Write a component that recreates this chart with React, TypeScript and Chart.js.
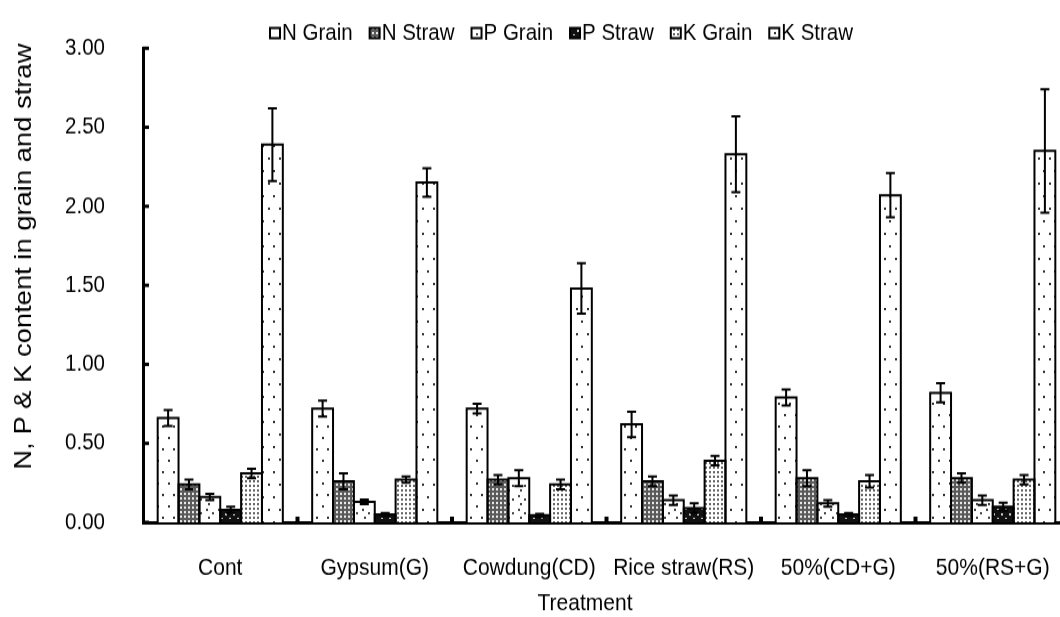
import React, { useEffect, useRef } from 'react';
import { Chart, registerables } from 'chart.js';

Chart.register(...registerables);

const categories = ['Cont', 'Gypsum(G)', 'Cowdung(CD)', 'Rice straw(RS)', '50%(CD+G)', '50%(RS+G)'];
const seriesNames = ['N Grain', 'N Straw', 'P Grain', 'P Straw', 'K Grain', 'K Straw'];

const nGrain = [0.66, 0.72, 0.72, 0.62, 0.79, 0.82];
const nGrainErr = [0.05, 0.05, 0.03, 0.08, 0.05, 0.06];
const nStraw = [0.24, 0.26, 0.27, 0.26, 0.28, 0.28];
const nStrawErr = [0.03, 0.05, 0.03, 0.03, 0.05, 0.03];
const pGrain = [0.16, 0.13, 0.28, 0.14, 0.12, 0.14];
const pGrainErr = [0.02, 0.015, 0.05, 0.03, 0.02, 0.03];
const pStraw = [0.08, 0.05, 0.045, 0.09, 0.05, 0.1];
const pStrawErr = [0.02, 0.01, 0.01, 0.03, 0.01, 0.025];
const kGrain = [0.31, 0.27, 0.24, 0.39, 0.26, 0.27];
const kGrainErr = [0.03, 0.02, 0.03, 0.03, 0.04, 0.03];
const kStraw = [2.39, 2.15, 1.48, 2.33, 2.07, 2.35];
const kStrawErr = [0.23, 0.09, 0.16, 0.24, 0.14, 0.39];

const seriesValues = [nGrain, nStraw, pGrain, pStraw, kGrain, kStraw];
const seriesErrors = [nGrainErr, nStrawErr, pGrainErr, pStrawErr, kGrainErr, kStrawErr];

const yMin = 0;
const yMax = 3;
const yStep = 0.5;
const yTitle = 'N, P & K content in grain and straw';
const xTitle = 'Treatment';

const FONT = "'Liberation Sans', Arial, sans-serif";
const CANVAS_W = 1090;
const CANVAS_H = 541;

function makePattern(ctx: CanvasRenderingContext2D, w: number, h: number, draw: (g: CanvasRenderingContext2D) => void) {
  const c = document.createElement('canvas');
  c.width = w;
  c.height = h;
  const g = c.getContext('2d')!;
  draw(g);
  return ctx.createPattern(c, 'repeat');
}

export default function App() {
  const ref = useRef<HTMLCanvasElement>(null);

  useEffect(() => {
    document.body.style.margin = '0';
    const canvas = ref.current!;
    const ctx = canvas.getContext('2d')!;

    const patterns = [
      // N Grain: white with sparse dots
      makePattern(ctx, 11, 20, (g) => {
        g.fillStyle = '#fff'; g.fillRect(0, 0, 11, 20);
        g.fillStyle = '#333'; g.fillRect(3, 3, 2, 2); g.fillRect(8, 13, 2, 2);
      }),
      // N Straw: gray dense texture
      makePattern(ctx, 4, 4, (g) => {
        g.fillStyle = '#5a5a5a'; g.fillRect(0, 0, 4, 4);
        g.fillStyle = '#e8e8e8'; g.fillRect(0, 0, 2, 2);
      }),
      // P Grain: white with scattered dots
      makePattern(ctx, 12, 12, (g) => {
        g.fillStyle = '#fff'; g.fillRect(0, 0, 12, 12);
        g.fillStyle = '#444'; g.fillRect(2, 2, 2, 2); g.fillRect(8, 5, 2, 2); g.fillRect(4, 9, 2, 2);
      }),
      // P Straw: black with light specks
      makePattern(ctx, 8, 8, (g) => {
        g.fillStyle = '#111'; g.fillRect(0, 0, 8, 8);
        g.fillStyle = '#cfcfcf'; g.fillRect(1, 2, 2, 2); g.fillRect(5, 6, 2, 1);
      }),
      // K Grain: dense dot grid
      makePattern(ctx, 4, 4, (g) => {
        g.fillStyle = '#fff'; g.fillRect(0, 0, 4, 4);
        g.fillStyle = '#666'; g.fillRect(1, 1, 2, 2);
      }),
      // K Straw: white with sparse dots
      makePattern(ctx, 11, 22, (g) => {
        g.fillStyle = '#fff'; g.fillRect(0, 0, 11, 22);
        g.fillStyle = '#333'; g.fillRect(4, 6, 2, 2); g.fillRect(9, 17, 2, 2);
      }),
    ];

    const outlinePlugin = {
      id: 'outlineAndErrors',
      afterDatasetsDraw(chart: any) {
        const c = chart.ctx;
        const y = chart.scales.y;
        c.save();
        c.strokeStyle = '#000';
        c.lineWidth = 2;
        c.lineJoin = 'miter';
        chart.data.datasets.forEach((ds: any, i: number) => {
          const meta = chart.getDatasetMeta(i);
          meta.data.forEach((bar: any) => {
            const p = bar.getProps(['x', 'y', 'base', 'width'], true);
            const l = p.x - p.width / 2;
            const r = p.x + p.width / 2;
            c.beginPath();
            c.moveTo(l, p.base);
            c.lineTo(l, p.y);
            c.lineTo(r, p.y);
            c.lineTo(r, p.base);
            c.stroke();
          });
        });
        chart.data.datasets.forEach((ds: any, i: number) => {
          const meta = chart.getDatasetMeta(i);
          const errs = seriesErrors[i];
          meta.data.forEach((bar: any, j: number) => {
            const v = ds.data[j];
            const e = errs[j];
            const yt = y.getPixelForValue(v + e);
            const yb = y.getPixelForValue(Math.max(0, v - e));
            const x = bar.x;
            c.beginPath();
            c.moveTo(x, yt); c.lineTo(x, yb);
            c.moveTo(x - 4.5, yt); c.lineTo(x + 4.5, yt);
            c.moveTo(x - 4.5, yb); c.lineTo(x + 4.5, yb);
            c.stroke();
          });
        });
        c.restore();
      },
      afterDraw(chart: any) {
        const c = chart.ctx;
        const { left, right, bottom, top } = chart.chartArea;
        const y = chart.scales.y;
        c.save();
        c.fillStyle = '#000';
        // inner y ticks
        for (let v = yMin; v <= yMax + 1e-9; v += yStep) {
          const py = y.getPixelForValue(v);
          c.fillRect(left, py - 1.5, 6, 3);
        }
        // x category boundary marks
        const n = categories.length;
        for (let k = 1; k < n; k++) {
          const px = left + (k * (right - left)) / n;
          c.fillRect(px - 2, bottom - 5, 4, 5);
        }
        // y title
        c.save();
        c.translate(24, 225);
        c.rotate(-Math.PI / 2);
        c.textAlign = 'center';
        c.textBaseline = 'middle';
        c.font = `24px ${FONT}`;
        c.fillText(yTitle, 0, 0);
        c.restore();
        // x title
        c.textAlign = 'center';
        c.textBaseline = 'middle';
        c.font = `21px ${FONT}`;
        c.fillText(xTitle, 585, 529.5);
        // legend
        c.font = `20.5px ${FONT}`;
        c.textAlign = 'left';
        let lx = 270;
        const ly = 29;
        chart.data.datasets.forEach((ds: any) => {
          const bw = 10;
          const bh = 9;
          c.fillStyle = ds.backgroundColor;
          c.fillRect(lx, ly - bh / 2, bw, bh);
          c.strokeStyle = '#000';
          c.lineWidth = 2;
          c.strokeRect(lx, ly - bh / 2, bw, bh);
          c.fillStyle = '#000';
          c.fillText(ds.label, lx + 12, ly);
          lx += 12 + c.measureText(ds.label).width + 17;
        });
        c.restore();
      },
    };

    const chart = new Chart(canvas, {
      type: 'bar',
      data: {
        labels: categories,
        datasets: seriesNames.map((name, i) => ({
          label: name,
          data: seriesValues[i],
          backgroundColor: patterns[i] as any,
          borderWidth: 0,
          categoryPercentage: 0.81,
          barPercentage: 1.0,
        })),
      },
      options: {
        responsive: false,
        animation: false,
        devicePixelRatio: 1,
        events: [],
        layout: { padding: { top: 20, right: 20, left: 0, bottom: 0 }, autoPadding: false },
        plugins: {
          legend: { display: false },
          tooltip: { enabled: false },
          title: { display: false },
        },
        scales: {
          x: {
            grid: { display: false },
            border: { display: true, width: 3, color: '#000' },
            ticks: {
              color: '#000',
              font: { family: FONT, size: 21 },
              padding: 19.4,
              maxRotation: 0,
              autoSkip: false,
            },
            afterFit: (scale: any) => { scale.height = 83; },
          },
          y: {
            min: yMin,
            max: yMax,
            grid: { display: false },
            border: { display: true, width: 3, color: '#000' },
            ticks: {
              stepSize: yStep,
              color: '#000',
              font: { family: FONT, size: 20.5 },
              padding: 30,
              callback: (v: any) => Number(v).toFixed(2),
            },
            afterFit: (scale: any) => { scale.width = 143; },
          },
        },
      },
      plugins: [outlinePlugin],
    });

    return () => chart.destroy();
  }, []);

  return (
    <div style={{ position: 'fixed', left: 0, top: 0, width: 1060, height: 617, overflow: 'hidden', background: '#fff' }}>
      <canvas
        ref={ref}
        width={CANVAS_W}
        height={CANVAS_H}
        style={{ width: `${CANVAS_W}px`, height: '617px', display: 'block' }}
      />
    </div>
  );
}
